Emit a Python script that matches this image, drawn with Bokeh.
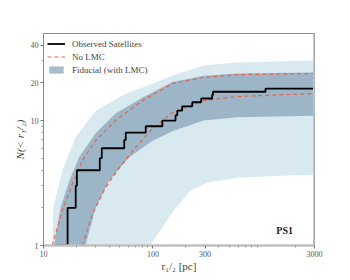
from bokeh.plotting import figure
from bokeh.models import FixedTicker, Span, Label, Legend, LegendItem, PrintfTickFormatter
from bokeh.embed import file_html
from bokeh.resources import INLINE

# ---- data ----
sat_r = [12.6, 16.6, 19.7, 20.2, 32.7, 34.1, 54.7, 56.5, 86, 122, 161, 167, 185, 229, 276, 348, 354, 1070]
sat_n = [1, 2, 3, 4, 5, 6, 7, 8, 9, 10, 11, 12, 13, 14, 15, 16, 17, 18]
r_max = 3000

light_up_x = [12.1, 12.3, 14.9, 19.7, 30.0, 56.5, 99.2, 151, 290, 593, 3000]
light_up_y = [1.0, 2.0, 4.0, 7.35, 12.0, 16.4, 19.7, 22.9, 27.5, 29.1, 30.2]
light_lo_x = [3000, 631, 315, 221, 151, 122, 95]
light_lo_y = [3.7, 3.5, 3.19, 2.75, 1.85, 1.4, 1.0]

dark_up_x = [12.5, 14.3, 17.2, 21.2, 29.9, 45.5, 80.4, 151, 290, 593, 3000]
dark_up_y = [1.0, 2.0, 3.3, 5.1, 7.9, 11.4, 15.3, 20.3, 22.8, 23.8, 24.2]
dark_lo_x = [3000, 593, 290, 151, 99.2, 60.7, 39.9, 30.0, 24.2]
dark_lo_y = [10.9, 10.6, 10.0, 8.2, 6.9, 5.06, 3.31, 2.01, 1.0]

nolmc_up_x = [12.0, 14.9, 18.4, 22.7, 29.9, 45.5, 80.4, 151, 290, 593, 3000]
nolmc_up_y = [1.0, 1.91, 3.13, 4.79, 6.92, 10.0, 14.45, 19.8, 22.1, 23.3, 23.8]
nolmc_lo_x = [22.7, 28.1, 36.9, 49.5, 69.3, 99.2, 151, 290, 593, 3000]
nolmc_lo_y = [1.0, 1.80, 2.91, 4.21, 6.08, 8.6, 11.6, 14.45, 15.56, 16.44]

x_ticks = [10, 100, 300, 3000]
x_tick_labels = ["10", "100", "300", "3000"]
x_minor = [20, 30, 40, 50, 60, 70, 80, 90, 200, 400, 500, 600, 700, 800, 900, 2000]
y_ticks = [1, 10, 20, 40]
y_tick_labels = ["1", "10", "20", "40"]
y_minor = [2, 3, 4, 5, 6, 7, 8, 9, 30]

SERIF = "Liberation Serif"

p = figure(width=340, height=276, x_axis_type="log", y_axis_type="log",
           x_range=(10, 3000), y_range=(1, 49.7),
           output_backend="svg", toolbar_location=None,
           min_border_left=43, min_border_right=26, min_border_top=33, min_border_bottom=31)
p.grid.visible = False
p.outline_line_color = "#8a8a8a"
p.outline_line_width = 1

light = p.patch(light_up_x + light_lo_x + [light_up_x[0]], light_up_y + light_lo_y + [light_up_y[0]],
                fill_color="#d8eaf0", line_color=None)
dark = p.patch(dark_up_x + dark_lo_x, dark_up_y + dark_lo_y,
               fill_color="#839fb6", fill_alpha=0.7, line_color=None)
red1 = p.line(nolmc_up_x, nolmc_up_y, line_color="#e8604f", line_width=1.2, line_dash="4 3")
red2 = p.line(nolmc_lo_x, nolmc_lo_y, line_color="#e8604f", line_width=1.2, line_dash="4 3")
obs = p.step(sat_r + [r_max], sat_n + [sat_n[-1]], mode="after", line_color="black", line_width=1.8)

p.add_layout(Span(location=3000, dimension="height", line_color="#c4c4c4", line_width=3))

legend = Legend(items=[LegendItem(label="Observed Satellites", renderers=[obs]),
                       LegendItem(label="No LMC", renderers=[red1]),
                       LegendItem(label="Fiducial (with LMC)", renderers=[dark])],
                location="top_left")
legend.background_fill_alpha = 0
legend.border_line_color = None
legend.label_text_font = SERIF
legend.label_text_font_size = "9px"
legend.label_text_color = "#444444"
legend.glyph_width = 18
legend.glyph_height = 9
legend.label_height = 13
legend.label_standoff = 7
legend.spacing = 0
legend.margin = 4
legend.padding = 2
p.add_layout(legend)

p.add_layout(Label(x=1600, y=1.32, text="PS1", text_font=SERIF, text_font_style="bold",
                   text_font_size="10px", text_align="center", text_baseline="middle",
                   text_color="#222222"))

xa = p.xaxis[0]
xa.ticker = FixedTicker(ticks=x_ticks, minor_ticks=x_minor)
xa.formatter = PrintfTickFormatter(format="%d")
xa.major_label_overrides = dict(zip(x_ticks, x_tick_labels))
xa.axis_label = "r\u2081/\u2082 [pc]"
ya = p.yaxis[0]
ya.ticker = FixedTicker(ticks=y_ticks, minor_ticks=y_minor)
ya.formatter = PrintfTickFormatter(format="%d")
ya.major_label_overrides = dict(zip(y_ticks, y_tick_labels))
ya.axis_label = "N(< r\u2081/\u2082)"
ya.axis_label_text_font_style = "italic"

for ax in (xa, ya):
    ax.major_label_text_font = SERIF
    ax.major_label_text_font_size = "8px"
    ax.major_label_text_color = "#555555"
    ax.axis_label_text_font = SERIF
    ax.axis_label_text_font_size = "11px"
    ax.axis_label_text_color = "#444444"
    ax.major_tick_in = 0
    ax.major_tick_out = 3
    ax.minor_tick_in = 0
    ax.minor_tick_out = 2
    ax.major_tick_line_color = "#777777"
    ax.minor_tick_line_color = "#999999"
    ax.major_label_standoff = 2
    ax.axis_label_standoff = 2
xa.axis_label_standoff = 0
xa.axis_label_text_font_style = "normal"
xa.axis_line_color = "#c0c0c0"
xa.axis_line_width = 2.5
ya.axis_line_color = "#8a8a8a"

open("out.html", "w").write(file_html(p, INLINE))
